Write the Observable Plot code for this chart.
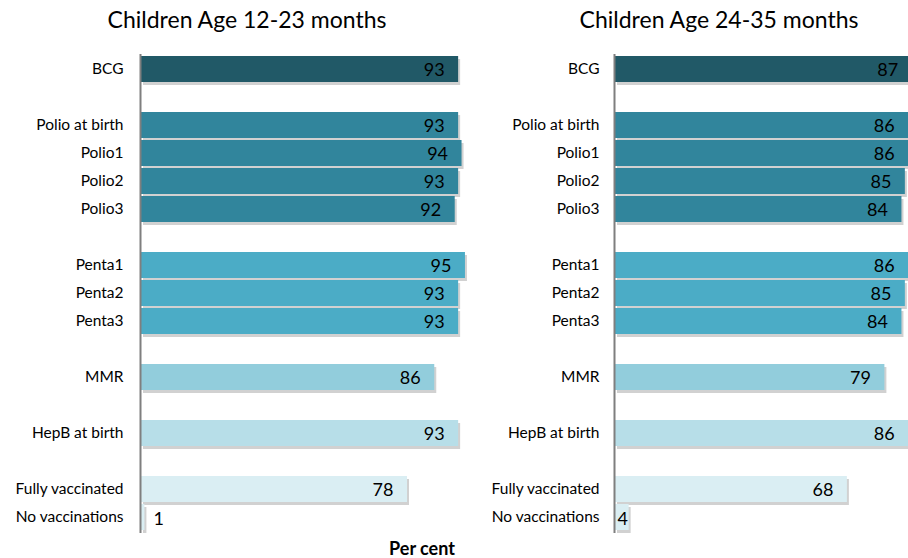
<!DOCTYPE html>
<html>
<head>
<meta charset="utf-8">
<script src="https://cdn.jsdelivr.net/npm/d3@7"></script>
<script src="https://cdn.jsdelivr.net/npm/@observablehq/plot@0.6"></script>
<style>
  html, body { margin: 0; padding: 0; background: #fff; }
  body { width: 908px; height: 558px; overflow: hidden; position: relative; font-family: Lato, "Open Sans", sans-serif; }
  .title { position: absolute; top: 5px; font-size: 23px; font-weight: 400; color: #000; text-align: center; white-space: nowrap; }
  .panel { position: absolute; top: 0; }
  .xlabel { position: absolute; top: 537px; left: 0; width: 844px; text-align: center; font-size: 18px; font-weight: bold; color: #000; }
</style>
</head>
<body>
<div class="title" style="left:47px;width:400px">Children Age 12-23 months</div>
<div class="title" style="left:519px;width:400px">Children Age 24-35 months</div>
<div class="panel" id="p1" style="left:0px"></div>
<div class="panel" id="p2" style="left:470px"></div>
<div class="xlabel">Per cent</div>
<script>
// ---- data ----
const categories = ["BCG","Polio at birth","Polio1","Polio2","Polio3","Penta1","Penta2","Penta3","MMR","HepB at birth","Fully vaccinated","No vaccinations"];
const groups = [["BCG"],["Polio at birth","Polio1","Polio2","Polio3"],["Penta1","Penta2","Penta3"],["MMR"],["HepB at birth"],["Fully vaccinated","No vaccinations"]];
const values12to23 = [93,93,94,93,92,95,93,93,86,93,78,1];
const values24to35 = [87,86,86,85,84,86,85,84,79,86,68,4];
const barColors = ["#215967","#31859c","#31859c","#31859c","#31859c","#4bacc6","#4bacc6","#4bacc6","#92cddc","#b7dee8","#daeef3","#daeef3"];

// band domain with blank spacer rows between groups
const yDomain = [];
groups.forEach((g, i) => { if (i > 0) yDomain.push("_gap" + i); yDomain.push(...g); });

function makePanel(values, opts) {
  const data = categories.map((c, i) => ({cat: c, value: values[i], color: barColors[i]}));
  const big = data.filter(d => d.value >= 10);
  const small = data.filter(d => d.value < 10);
  return Plot.plot({
    width: opts.width,
    height: 540,
    marginTop: 54,
    marginBottom: 7,
    marginLeft: opts.left,
    marginRight: 0,
    style: {background: "transparent", maxWidth: "none", fontFamily: "Lato, 'Open Sans', sans-serif", color: "#000"},
    x: {domain: [0, 100], range: [opts.left, opts.left + 341], axis: null},
    y: {domain: yDomain, paddingInner: 0.07, paddingOuter: 0.035, axis: null},
    marks: [
      Plot.barX(data, {x: "value", y: "cat", fill: "#9a9a9a", fillOpacity: 0.45, dx: 2, dy: 3}),
      Plot.barX(data, {x: "value", y: "cat", fill: "color"}),
      Plot.ruleX([0], {stroke: "#7f7f7f", strokeWidth: 2, dx: -1}),
      Plot.axisY({ticks: categories, label: null, tickSize: 0, tickPadding: opts.pad, fontSize: 15.5, fill: "#000"}),
      Plot.text(big, {x: "value", y: "cat", text: d => String(d.value), textAnchor: "end", dx: -14, dy: 1, fontSize: 18, fill: "#000"}),
      Plot.text(small, {x: 0, y: "cat", text: d => String(d.value), textAnchor: "start", dx: opts.smallDx, dy: 2, fontSize: 18, fill: "#000"})
    ]
  });
}

document.getElementById("p1").append(makePanel(values12to23, {width: 470, left: 141, smallDx: 12, pad: 18}));
document.getElementById("p2").append(makePanel(values24to35, {width: 500, left: 145, smallDx: 2, pad: 16}));
</script>
</body>
</html>
